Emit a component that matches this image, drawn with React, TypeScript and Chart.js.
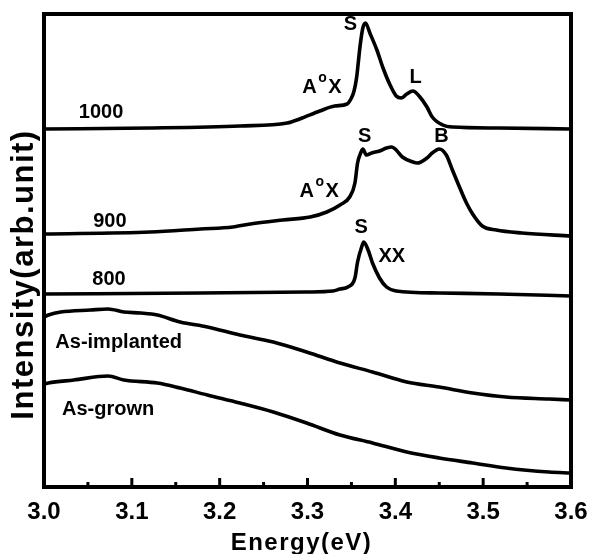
import { useEffect, useRef } from 'react';
import { Chart, registerables } from 'chart.js';

Chart.register(...registerables);

const FONT = '"Liberation Sans", Arial, Helvetica, sans-serif';

// Energy axis ticks
const majorTicks = [3.0, 3.1, 3.2, 3.3, 3.4, 3.5, 3.6];
const majorTickLabels = ['3.0', '3.1', '3.2', '3.3', '3.4', '3.5', '3.6'];
const minorTicks = [3.05, 3.15, 3.25, 3.35, 3.45, 3.55];

// 1000 (offset spectrum)
const e1000 = [3.000, 3.121, 3.223, 3.277, 3.291, 3.314, 3.331, 3.345, 3.350, 3.353, 3.356, 3.358, 3.360, 3.363, 3.366, 3.371, 3.379, 3.386, 3.394, 3.401, 3.407, 3.413, 3.420, 3.428, 3.436, 3.442, 3.454, 3.465, 3.518, 3.600];
const i1000 = [358, 359, 361, 364, 368, 376, 381, 383, 389, 396, 410, 426, 442, 459, 464, 454, 437, 419, 402, 391, 389, 393, 396, 390, 380, 370, 362, 360, 359, 358];

// 900
const e900 = [3.000, 3.121, 3.178, 3.215, 3.235, 3.272, 3.303, 3.322, 3.337, 3.348, 3.354, 3.357, 3.361, 3.363, 3.367, 3.373, 3.382, 3.390, 3.396, 3.401, 3.408, 3.420, 3.425, 3.436, 3.442, 3.450, 3.458, 3.465, 3.473, 3.481, 3.488, 3.499, 3.515, 3.544, 3.600];
const i900 = [253, 255, 258, 260, 263, 267, 270, 275, 282, 290, 304, 324, 335, 338, 332, 334, 336, 339, 340, 337, 330, 325, 324, 329, 334, 338, 332, 317, 300, 284, 273, 261, 257, 254, 251];

// 800
const e800 = [3.000, 3.178, 3.299, 3.329, 3.337, 3.346, 3.354, 3.357, 3.362, 3.364, 3.369, 3.374, 3.382, 3.390, 3.401, 3.450, 3.518, 3.600];
const i800 = [193, 194, 195, 196, 198, 200, 209, 225, 241, 245, 237, 224, 209, 200, 196, 194, 193, 191];

// As-implanted
const eImpl = [3.000, 3.005, 3.019, 3.053, 3.073, 3.091, 3.110, 3.129, 3.155, 3.186, 3.223, 3.261, 3.299, 3.337, 3.374, 3.413, 3.450, 3.488, 3.526, 3.575, 3.600];
const iImpl = [170, 172, 175, 177, 178, 175, 174, 172, 165, 160, 152, 145, 135, 124, 115, 105, 100, 94, 90, 88, 87];

// As-grown
const eGrown = [3.000, 3.005, 3.034, 3.073, 3.091, 3.129, 3.155, 3.186, 3.223, 3.261, 3.299, 3.337, 3.374, 3.413, 3.450, 3.488, 3.526, 3.575, 3.600];
const iGrown = [103, 104, 107, 111, 107, 104, 99, 92, 84, 75, 64, 52, 44, 35, 29, 24, 19, 15, 14];

// Text labels (data coordinates: energy, intensity)
const curveLabels = [
  { text: '1000', x: 3.065, y: 369, align: 'center' },
  { text: '900', x: 3.075, y: 260, align: 'center' },
  { text: '800', x: 3.074, y: 202, align: 'center' },
  { text: 'As-implanted', x: 3.085, y: 139, align: 'center' },
  { text: 'As-grown', x: 3.073, y: 72, align: 'center' },
  { text: 'S', x: 3.349, y: 457, align: 'center' },
  { text: 'L', x: 3.423, y: 404, align: 'center' },
  { text: 'S', x: 3.365, y: 345, align: 'center' },
  { text: 'B', x: 3.4525, y: 345, align: 'center' },
  { text: 'S', x: 3.361, y: 254, align: 'center' },
  { text: 'XX', x: 3.396, y: 225, align: 'center' },
];
const aoxLabels = [
  { x: 3.294, y: 394 },
  { x: 3.291, y: 290 },
];

const mk = (xs: number[], ys: number[]) => xs.map((x, i) => ({ x, y: ys[i] }));

const decorPlugin = {
  id: 'decor',
  afterDraw(chart: any) {
    const { ctx, chartArea: ca, scales } = chart;
    const xs = scales.x;
    const ys = scales.y;
    ctx.save();
    ctx.fillStyle = '#000';
    ctx.strokeStyle = '#000';

    // frame
    ctx.lineWidth = 4;
    ctx.strokeRect(ca.left, ca.top, ca.right - ca.left, ca.bottom - ca.top);

    // ticks (inward)
    ctx.lineWidth = 3;
    majorTicks.forEach((v) => {
      const px = xs.getPixelForValue(v);
      ctx.beginPath();
      ctx.moveTo(px, ca.bottom);
      ctx.lineTo(px, ca.bottom - 9);
      ctx.stroke();
    });
    minorTicks.forEach((v) => {
      const px = xs.getPixelForValue(v);
      ctx.beginPath();
      ctx.moveTo(px, ca.bottom);
      ctx.lineTo(px, ca.bottom - 5);
      ctx.stroke();
    });

    // tick labels
    ctx.font = `bold 24px ${FONT}`;
    ctx.textAlign = 'center';
    ctx.textBaseline = 'alphabetic';
    majorTicks.forEach((v, i) => {
      ctx.fillText(majorTickLabels[i], xs.getPixelForValue(v), ca.bottom + 32);
    });

    // x title
    (ctx as any).letterSpacing = '1.5px';
    ctx.font = `bold 24px ${FONT}`;
    ctx.fillText('Energy(eV)', (ca.left + ca.right) / 2 - 6, ca.bottom + 63);

    // y title
    ctx.save();
    ctx.translate(33, (ca.top + ca.bottom) / 2 + 24);
    ctx.rotate(-Math.PI / 2);
    (ctx as any).letterSpacing = '1.5px';
    ctx.font = `bold 31px ${FONT}`;
    ctx.textAlign = 'center';
    ctx.fillText('Intensity(arb.unit)', 0, 0);
    ctx.restore();
    (ctx as any).letterSpacing = '0px';

    // curve labels
    ctx.font = `bold 20px ${FONT}`;
    curveLabels.forEach((l) => {
      ctx.textAlign = l.align as CanvasTextAlign;
      ctx.fillText(l.text, xs.getPixelForValue(l.x), ys.getPixelForValue(l.y));
    });
    // A^oX labels
    ctx.textAlign = 'left';
    aoxLabels.forEach((l) => {
      let px = xs.getPixelForValue(l.x);
      const py = ys.getPixelForValue(l.y);
      ctx.font = `bold 20px ${FONT}`;
      ctx.fillText('A', px, py);
      px += ctx.measureText('A').width + 1.5;
      ctx.font = `bold 14px ${FONT}`;
      ctx.fillText('o', px, py - 11);
      px += ctx.measureText('o').width + 1.5;
      ctx.font = `bold 20px ${FONT}`;
      ctx.fillText('X', px, py);
    });
    ctx.restore();
  },
};

export default function App() {
  const ref = useRef<HTMLCanvasElement>(null);
  useEffect(() => {
    const canvas = ref.current;
    if (!canvas) return;
    const lineStyle = {
      borderColor: '#000',
      borderWidth: 3.6,
      pointRadius: 0,
      fill: false,
      cubicInterpolationMode: 'monotone' as const,
    };
    const chart = new Chart(canvas, {
      type: 'line',
      data: {
        datasets: [
          { label: '1000', data: mk(e1000, i1000), ...lineStyle },
          { label: '900', data: mk(e900, i900), ...lineStyle },
          { label: '800', data: mk(e800, i800), ...lineStyle },
          { label: 'As-implanted', data: mk(eImpl, iImpl), ...lineStyle },
          { label: 'As-grown', data: mk(eGrown, iGrown), ...lineStyle },
        ],
      },
      options: {
        responsive: false,
        animation: false,
        layout: { padding: { left: 44, top: 14, right: 19, bottom: 67 } },
        plugins: { legend: { display: false }, tooltip: { enabled: false } },
        scales: {
          x: { type: 'linear', min: 3.0, max: 3.6, display: false },
          y: { type: 'linear', min: 0, max: 473, display: false },
        },
      },
      plugins: [decorPlugin],
    });
    return () => chart.destroy();
  }, []);
  return (
    <div style={{ position: 'fixed', left: 0, top: 0, width: 590, height: 554, background: '#fff' }}>
      <canvas ref={ref} width={590} height={554} style={{ display: 'block', width: 590, height: 554 }} />
    </div>
  );
}
